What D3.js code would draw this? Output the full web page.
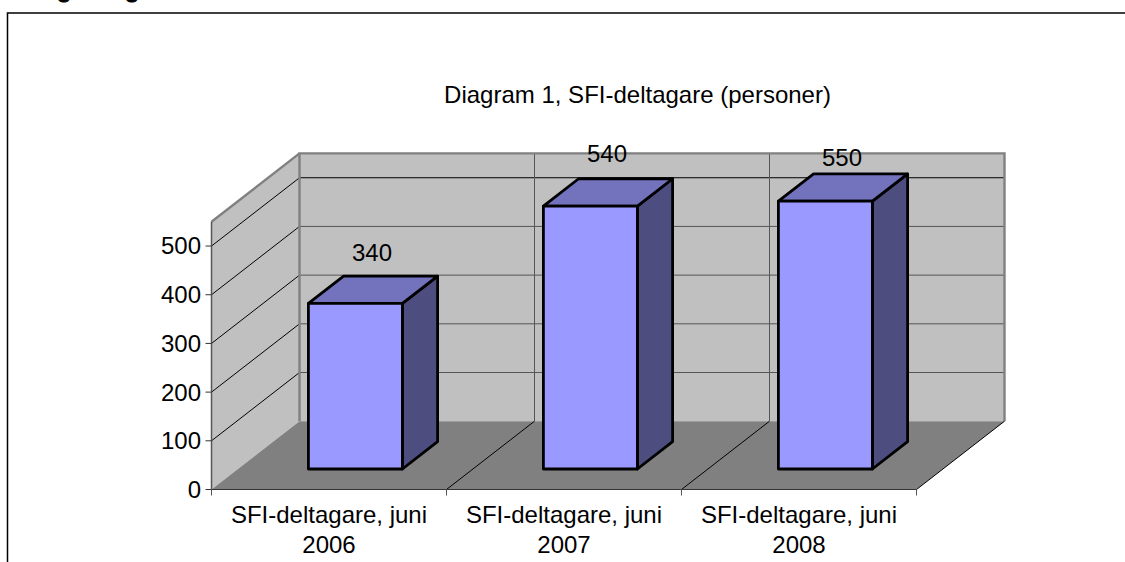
<!DOCTYPE html>
<html>
<head>
<meta charset="utf-8">
<script src="https://cdn.jsdelivr.net/npm/d3@7"></script>
<style>
    html, body { margin: 0; padding: 0; background: #fff; overflow: hidden; }
    text { font-family: "Liberation Sans", Arial, sans-serif; fill: #000; }
</style>
</head>
<body>
<svg id="chart" width="1125" height="562"></svg>
<script>
const headingText = 'Integrering';
const chartTitle = 'Diagram 1, SFI-deltagare (personer)';
const categories = ['SFI-deltagare, juni 2006', 'SFI-deltagare, juni 2007', 'SFI-deltagare, juni 2008'];
const categoryLines = [['SFI-deltagare, juni', '2006'], ['SFI-deltagare, juni', '2007'], ['SFI-deltagare, juni', '2008']];
const values = [340, 540, 550];
const yTicks = [0, 100, 200, 300, 400, 500];
const yMax = 550;

const svg = d3.select('#chart');

const x = d3.scaleBand().domain(categories).range([211.5, 916.5]);
const y = d3.scaleLinear().domain([0, yMax]).range([489.5, 221.7]);
// depth 0 is the front edge of the floor, 1 is the back wall
const depthX = d3.scaleLinear().domain([0, 1]).range([0, 88]);
const depthY = d3.scaleLinear().domain([0, 1]).range([0, -68.3]);

// projects (px along x axis, value, depth) on to the page
const pt = (px, v, d) => [px + depthX(d), y(v) + depthY(d)];
const poly = pts => 'M' + pts.map(p => p.join(',')).join('L') + 'Z';
const line = (a, b) => 'M' + a.join(',') + 'L' + b.join(',');

const x0 = x.range()[0];
const x1 = x.range()[1];
const grey = '#808080';
const fontSize = 24;

// frame around the embedded chart
svg.append('path')
    .attr('d', 'M7.5,562V13H1125')
    .attr('fill', 'none')
    .attr('stroke', '#000')
    .attr('stroke-width', 1.5);

// heading cut off by the top of the page, only the descenders show
svg.append('text')
    .attr('x', 14)
    .attr('y', -3)
    .attr('font-size', fontSize)
    .attr('font-weight', 'bold')
    .attr('stroke', '#000')
    .attr('stroke-width', 0.8)
    .text(headingText);

// walls and floor
svg.append('path')
    .attr('d', poly([pt(x0, 0, 1), pt(x0, yMax, 1), pt(x1, yMax, 1), pt(x1, 0, 1)]))
    .attr('fill', '#c0c0c0');
svg.append('path')
    .attr('d', poly([pt(x0, 0, 0), pt(x0, yMax, 0), pt(x0, yMax, 1), pt(x0, 0, 1)]))
    .attr('fill', '#c0c0c0');
svg.append('path')
    .attr('d', poly([pt(x0, 0, 0), pt(x1, 0, 0), pt(x1, 0, 1), pt(x0, 0, 1)]))
    .attr('fill', grey);

// gridlines
yTicks.filter(t => t > 0).forEach(t => {
    svg.append('path').attr('d', line(pt(x0, t, 0), pt(x0, t, 1)))
        .attr('stroke', '#000').attr('fill', 'none');
    svg.append('path').attr('d', line(pt(x0, t, 1), pt(x1, t, 1)))
        .attr('stroke', t === 500 ? '#000' : '#555').attr('fill', 'none');
});

// category dividers on floor and back wall
const dividers = categories.slice(1).map(c => x(c));
dividers.forEach(px => {
    svg.append('path').attr('d', line(pt(px, 0, 0), pt(px, 0, 1)))
        .attr('stroke', '#000').attr('fill', 'none');
    svg.append('path').attr('d', line(pt(px, 0, 1), pt(px, yMax, 1)))
        .attr('stroke', '#555').attr('fill', 'none');
});

// wall outlines
svg.append('path')
    .attr('d', 'M' + [pt(x0, 0, 1), pt(x0, yMax, 1), pt(x1, yMax, 1), pt(x1, 0, 1)].map(p => p.join(',')).join('L'))
    .attr('fill', 'none').attr('stroke', grey).attr('stroke-width', 2.4);
svg.append('path')
    .attr('d', line(pt(x0, yMax, 0), pt(x0, yMax, 1)))
    .attr('stroke', grey).attr('stroke-width', 2.4);
svg.append('path')
    .attr('d', line(pt(x1, 0, 0), pt(x1, 0, 1)))
    .attr('stroke', '#000');

// axes
svg.append('path')
    .attr('d', line(pt(x0, 0, 0), pt(x0, yMax, 0)))
    .attr('stroke', '#555').attr('stroke-width', 1.5);
svg.append('path')
    .attr('d', line(pt(x0, 0, 0), pt(x1, 0, 0)))
    .attr('stroke', '#333').attr('stroke-width', 1.2);

const yAxis = svg.append('g');
yTicks.forEach(t => {
    yAxis.append('path').attr('d', line([x0 - 6, y(t)], [x0, y(t)])).attr('stroke', '#333');
    yAxis.append('text')
        .attr('x', x0 - 10.5)
        .attr('y', y(t))
        .attr('dy', '0.35em')
        .attr('text-anchor', 'end')
        .attr('font-size', fontSize)
        .text(t);
});

x.domain().map(c => x(c)).concat([x1]).forEach(px => {
    svg.append('path').attr('d', line([px, y(0)], [px, y(0) + 6])).attr('stroke', '#555');
});

categories.forEach((c, i) => {
    const label = svg.append('text')
        .attr('text-anchor', 'middle')
        .attr('font-size', fontSize);
    categoryLines[i].forEach((s, j) => {
        label.append('tspan')
            .attr('x', x(c) + x.bandwidth() / 2)
            .attr('y', 523 + j * 29.5)
            .text(s);
    });
});

// bars, gap width 150% and depth from 0.3 to 0.7
const barFront = 0.3;
const barBack = 0.7;
const barOffset = x.bandwidth() * 0.3;
const barWidth = x.bandwidth() * 0.4;
// the source placed the value labels unevenly above the bars
const labelLift = [15.3, 16.3, 7.6];

const bars = svg.selectAll('g.bar')
    .data(values)
    .enter().append('g')
    .attr('class', 'bar')
    .attr('stroke', '#000')
    .attr('stroke-width', 2.8)
    .attr('stroke-linejoin', 'round');

bars.each(function(v, i) {
    const g = d3.select(this);
    const l = x(categories[i]) + barOffset;
    const r = l + barWidth;
    g.append('path')
        .attr('d', poly([pt(r, 0, barFront), pt(r, v, barFront), pt(r, v, barBack), pt(r, 0, barBack)]))
        .attr('fill', '#4d4d80');
    g.append('path')
        .attr('d', poly([pt(l, v, barFront), pt(r, v, barFront), pt(r, v, barBack), pt(l, v, barBack)]))
        .attr('fill', '#7373bd');
    g.append('path')
        .attr('d', poly([pt(l, 0, barFront), pt(r, 0, barFront), pt(r, v, barFront), pt(l, v, barFront)]))
        .attr('fill', '#9999ff');
    const top = pt((l + r) / 2, v, barBack);
    svg.append('text')
        .attr('x', top[0] - 18.6)
        .attr('y', top[1] - labelLift[i])
        .attr('text-anchor', 'middle')
        .attr('font-size', fontSize)
        .text(v);
});

svg.append('text')
    .attr('x', 637.5)
    .attr('y', 103)
    .attr('text-anchor', 'middle')
    .attr('font-size', fontSize)
    .text(chartTitle);
</script>
</body>
</html>
